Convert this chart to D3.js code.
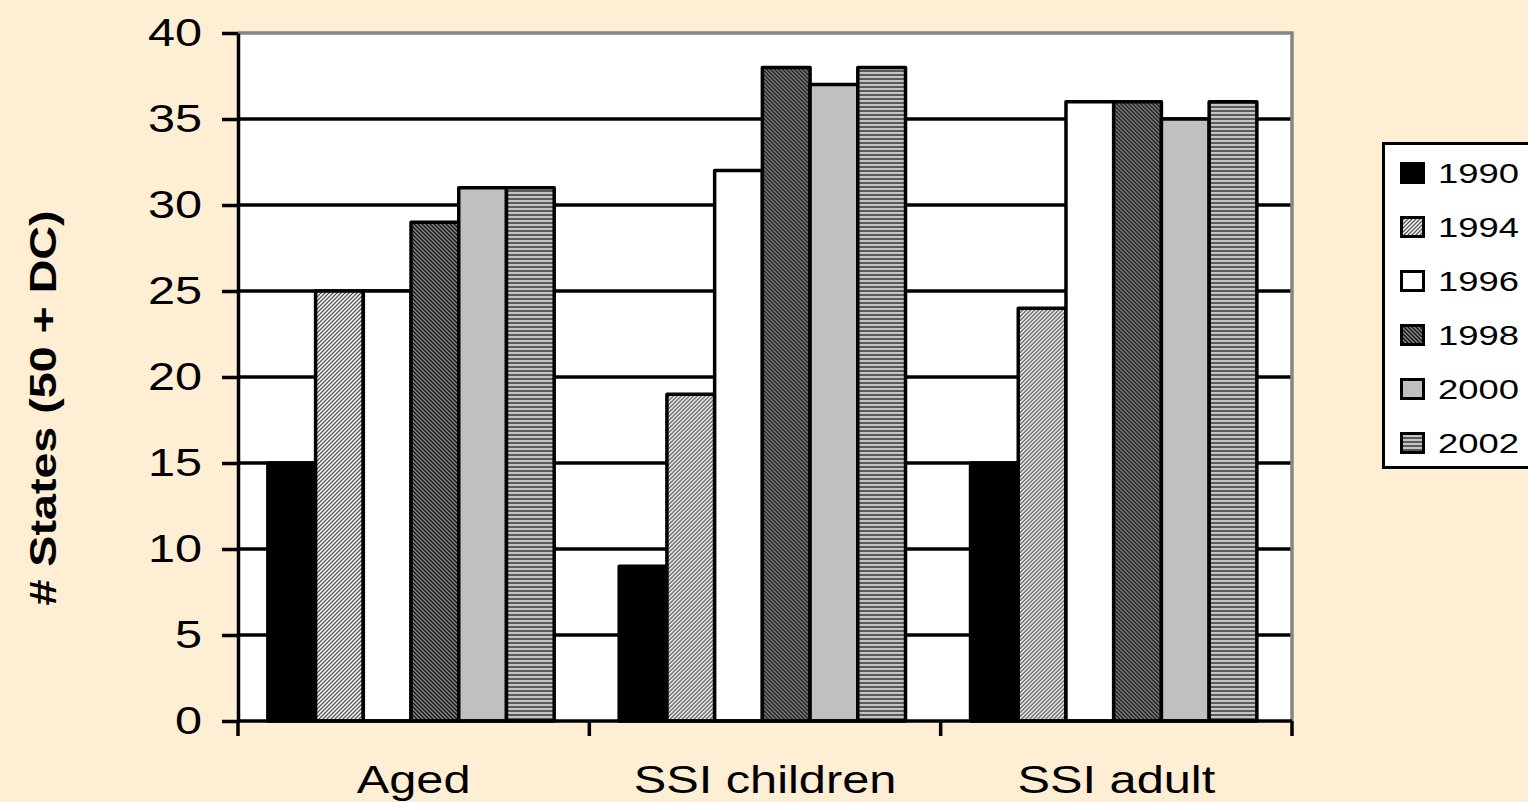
<!DOCTYPE html>
<html>
<head>
<meta charset="utf-8">
<script src="https://cdn.jsdelivr.net/npm/d3@7"></script>
<style>
html,body{margin:0;padding:0;background:#FDEED4;}
svg{display:block;}
text{font-family:"Liberation Sans",Arial,sans-serif;fill:#000;}
</style>
</head>
<body>
<svg id="chart" width="1528" height="802"></svg>
<script>
const categories = ["Aged", "SSI children", "SSI adult"];
const years = ["1990", "1994", "1996", "1998", "2000", "2002"];
const s1990 = [15, 9, 15];
const s1994 = [25, 19, 24];
const s1996 = [25, 32, 36];
const s1998 = [29, 38, 36];
const s2000 = [31, 37, 35];
const s2002 = [31, 38, 36];
const yTicks = [0, 5, 10, 15, 20, 25, 30, 35, 40];
const yLabel = "# States (50 + DC)";

const seriesValues = [s1990, s1994, s1996, s1998, s2000, s2002];
const fills = ["#000000", "url(#p1994)", "#ffffff", "url(#p1998)", "#c0c0c0", "url(#p2002)"];

const svg = d3.select("#chart");
const W = 1528, H = 802;
svg.append("rect").attr("width", W).attr("height", H).attr("fill", "#FDEED4");

// patterns
const defs = svg.append("defs");
const p94 = defs.append("pattern").attr("id", "p1994").attr("patternUnits", "userSpaceOnUse")
  .attr("width", 4).attr("height", 4);
p94.append("rect").attr("width", 4).attr("height", 4).attr("fill", "#ffffff");
p94.append("path").attr("d", "M-1,1 L1,-1 M0,4 L4,0 M3,5 L5,3").attr("stroke", "#555").attr("stroke-width", 1.3);

const p98 = defs.append("pattern").attr("id", "p1998").attr("patternUnits", "userSpaceOnUse")
  .attr("width", 4).attr("height", 4);
p98.append("rect").attr("width", 4).attr("height", 4).attr("fill", "#8a8a8a");
p98.append("path").attr("d", "M-1,3 L1,5 M0,0 L4,4 M3,-1 L5,1").attr("stroke", "#111").attr("stroke-width", 1.4);

const p02 = defs.append("pattern").attr("id", "p2002").attr("patternUnits", "userSpaceOnUse")
  .attr("width", 4).attr("height", 4);
p02.append("rect").attr("width", 4).attr("height", 4).attr("fill", "#c4c4c4");
p02.append("rect").attr("y", 2).attr("width", 4).attr("height", 2).attr("fill", "#5a5a5a");

// layout
const plotL = 238, plotR = 1292, plotT = 33, plotB = 721;

const y = d3.scaleLinear().domain([0, 40]).range([plotB, plotT]);
const x0 = d3.scaleBand().domain(categories).range([plotL, plotR]).padding(0);
const bw = x0.bandwidth();
const x1 = d3.scaleBand().domain(years).range([bw * 0.085, bw * 0.9]).padding(0);

// plot area
svg.append("rect").attr("x", plotL).attr("y", plotT).attr("width", plotR - plotL).attr("height", plotB - plotT)
  .attr("fill", "#ffffff");

// gridlines
svg.append("g").selectAll("line").data(yTicks.filter(t => t > 0 && t < 40)).join("line")
  .attr("x1", plotL).attr("x2", plotR)
  .attr("y1", d => y(d)).attr("y2", d => y(d))
  .attr("stroke", "#000").attr("stroke-width", 3.5);

// border top/right
svg.append("path")
  .attr("d", `M${plotL},${y(40)} H${plotR} V${plotB}`)
  .attr("fill", "none").attr("stroke", "#858585").attr("stroke-width", 3.5);

// bars
const groups = svg.append("g").selectAll("g").data(categories).join("g")
  .attr("transform", c => `translate(${x0(c)},0)`);
groups.selectAll("rect").data((c, ci) => years.map((yr, si) => ({yr, si, v: seriesValues[si][ci]})))
  .join("rect")
  .attr("x", d => x1(d.yr))
  .attr("width", x1.bandwidth())
  .attr("y", d => y(d.v))
  .attr("height", d => y(0) - y(d.v))
  .attr("fill", d => fills[d.si])
  .attr("stroke", "#000").attr("stroke-width", 3.5).attr("stroke-linejoin", "round");

// y axis
const yAxis = svg.append("g").attr("transform", `translate(${plotL},0)`)
  .call(d3.axisLeft(y).tickValues(yTicks).tickSize(16).tickPadding(12).tickSizeOuter(0));
yAxis.select(".domain").attr("stroke", "#000").attr("stroke-width", 3.5);
yAxis.selectAll(".tick line").attr("stroke", "#000").attr("stroke-width", 3.5);
yAxis.selectAll(".tick text")
  .attr("font-size", 38).attr("font-family", "Liberation Sans, Arial, sans-serif")
  .attr("transform", "scale(1.28,1)");

// x axis
const xAx = svg.append("g");
xAx.append("line").attr("x1", plotL).attr("x2", plotR).attr("y1", plotB).attr("y2", plotB)
  .attr("stroke", "#000").attr("stroke-width", 3.5);
const bounds = categories.map(c => x0(c)).concat([x0(categories[categories.length - 1]) + x0.step()]);
xAx.selectAll("line.tk").data(bounds).join("line").attr("class", "tk")
  .attr("x1", d => d).attr("x2", d => d).attr("y1", plotB).attr("y2", plotB + 15)
  .attr("stroke", "#000").attr("stroke-width", 3.5);
xAx.selectAll("text").data(categories).join("text")
  .attr("transform", c => `translate(${x0(c) + bw / 2},793) scale(1.25,1)`)
  .attr("text-anchor", "middle").attr("font-size", 39)
  .text(c => c);

// y label
svg.append("text")
  .attr("transform", "translate(43,408) rotate(-90) scale(1.26,1)")
  .attr("text-anchor", "middle").attr("dy", "0.36em")
  .attr("font-size", 37).attr("font-weight", "bold")
  .text(yLabel);

// legend
const ly = d3.scaleBand().domain(years).range([146, 470]);
const lg = svg.append("g");
lg.append("rect").attr("x", 1383.5).attr("y", 143.5).attr("width", 220).attr("height", 324)
  .attr("fill", "#ffffff").attr("stroke", "#000").attr("stroke-width", 3);
const items = lg.selectAll("g").data(years).join("g")
  .attr("transform", d => `translate(0,${ly(d) + ly.bandwidth() / 2})`);
items.append("rect").attr("x", 1401.5).attr("y", -9.5).attr("width", 22).attr("height", 19)
  .attr("fill", (d, i) => fills[i]).attr("stroke", "#000").attr("stroke-width", 3);
items.append("text").attr("transform", "translate(1438,0) scale(1.3,1)")
  .attr("dy", "0.36em").attr("font-size", 28).text(d => d);
</script>
</body>
</html>
